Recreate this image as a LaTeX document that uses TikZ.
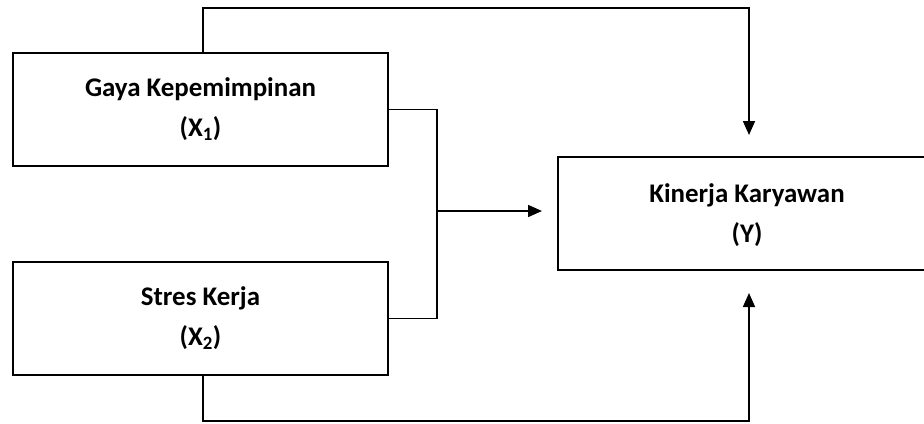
\documentclass[tikz,border=0pt]{standalone}
\usepackage{fontspec}
\setmainfont{Carlito}
\usetikzlibrary{arrows.meta,calc}

\tikzset{
  varbox/.style={draw, line width=1.8bp, rectangle, align=center,
    font=\fontsize{27}{40}\selectfont\bfseries, inner sep=0pt},
  boxline/.style={line width=1.8bp},
  link/.style={line width=1.6bp},
  arr/.style={link, -{Triangle[length=14bp,width=12bp]}}
}

\begin{document}
\begin{tikzpicture}[x=1bp,y=-1bp]
  \useasboundingbox (0,0) rectangle (924,423);

  % variable boxes
  \node[varbox, minimum width=375bp, minimum height=113bp] (x1) at (200.5,109.5)
    {Gaya Kepemimpinan\\(X\textsubscript{1})};
  \node[varbox, minimum width=375bp, minimum height=113bp] (x2) at (200.5,318.5)
    {Stres Kerja\\(X\textsubscript{2})};
  % the dependent box is open on the right, running off the margin
  \node[font=\fontsize{27}{40}\selectfont\bfseries, align=center, inner sep=0pt]
    (y) at (747,215) {Kinerja Karyawan\\(Y)};
  \draw[boxline] (924,157) -- (558,157) -- (558,270) -- (924,270);

  % routing points
  \coordinate (top) at (749,8);
  \coordinate (tipA) at (749,135);
  \coordinate (join) at (437,211);
  \coordinate (tipB) at (542,211);
  \coordinate (bot) at (749,421);
  \coordinate (tipC) at (749,293);

  % X1 -> Y (over the top)
  \draw[arr] ([xshift=2.5bp]x1.north) |- (top) -- (tipA);
  % joint path X1, X2 -> Y
  \draw[link] (x1.east) -| (join);
  \draw[link] (x2.east) -| (join);
  \draw[arr] (join) -- (tipB);
  % X2 -> Y (underneath)
  \draw[arr] ([xshift=2.5bp]x2.south) |- (bot) -- (tipC);
\end{tikzpicture}
\end{document}
